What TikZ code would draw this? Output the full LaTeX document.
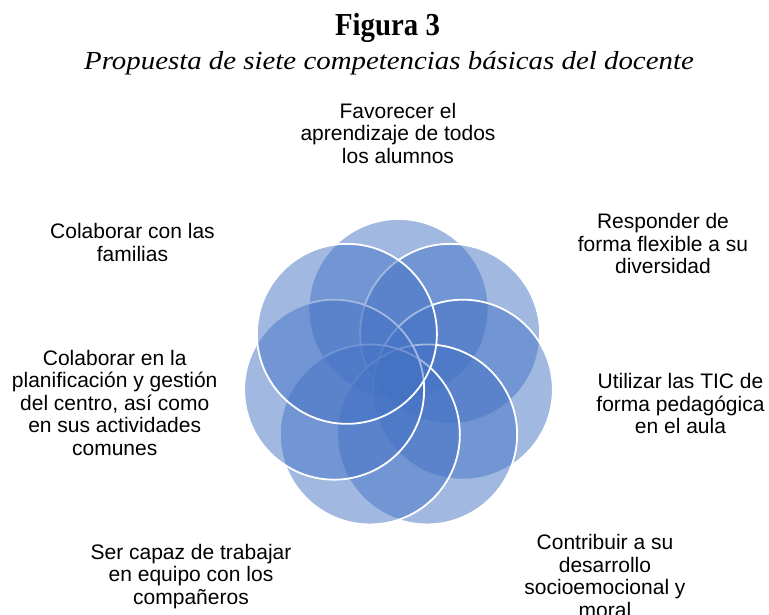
\documentclass[tikz,border=0pt]{standalone}
\usepackage{fontspec}
\setmainfont{Liberation Sans}
\newfontfamily\ttlfont[FakeStretch=0.9]{Liberation Serif}
\newfontfamily\subfont[FakeStretch=1.11]{Liberation Serif}
\usetikzlibrary{calc}
\usetikzlibrary{positioning}
\tikzset{petal/.style = {circle, fill = pblue, fill opacity = 0.5, draw = white, draw opacity = 1, line width = 1.8, minimum size = 180, inner sep = 0}}
\tikzset{lbl/.style = {align = center, anchor = north, inner sep = 0, font = \fontsize{21}{22.5}\selectfont}}
\definecolor{pblue}{RGB}{68, 114, 196}

\begin{document}
\begin{tikzpicture}[x = 1pt, y = 1pt]
    \useasboundingbox (0, 0) rectangle (769, 615);
    \coordinate (o) at (398.5, 240);
    \foreach \i in {0, ..., 6}
      \node [petal] (p\i) at ($(o) + ({90 - \i*360/7}:66)$) {};
    \node [anchor = base, font = \ttlfont\bfseries\fontsize{32}{34}\selectfont] (fig) at (387.5, 579) {Figura 3};
    \node [anchor = base, font = \subfont\itshape\fontsize{26}{28}\selectfont] (sub) at (389, 545.7) {Propuesta de siete competencias básicas del docente};
    \node [lbl] (fav) at (398, 512.3) {Favorecer el\\aprendizaje de todos\\los alumnos};
    \node [lbl] (resp) at (663, 401.7) {Responder de\\forma flexible a su\\diversidad};
    \node [lbl] (tic) at (680.5, 241.7) {Utilizar las TIC de\\forma pedagógica\\en el aula};
    \node [lbl] (contr) at (605, 80.7) {Contribuir a su\\desarrollo\\socioemocional y\\moral};
    \node [lbl] (equipo) at (191, 71) {Ser capaz de trabajar\\en equipo con los\\compañeros};
    \node [lbl] (plan) at (114.7, 265) {Colaborar en la\\planificación y gestión\\del centro, así como\\en sus actividades\\comunes};
    \node [lbl] (fam) at (132.5, 391.7) {Colaborar con las\\familias};
  \end{tikzpicture}
\end{document}
